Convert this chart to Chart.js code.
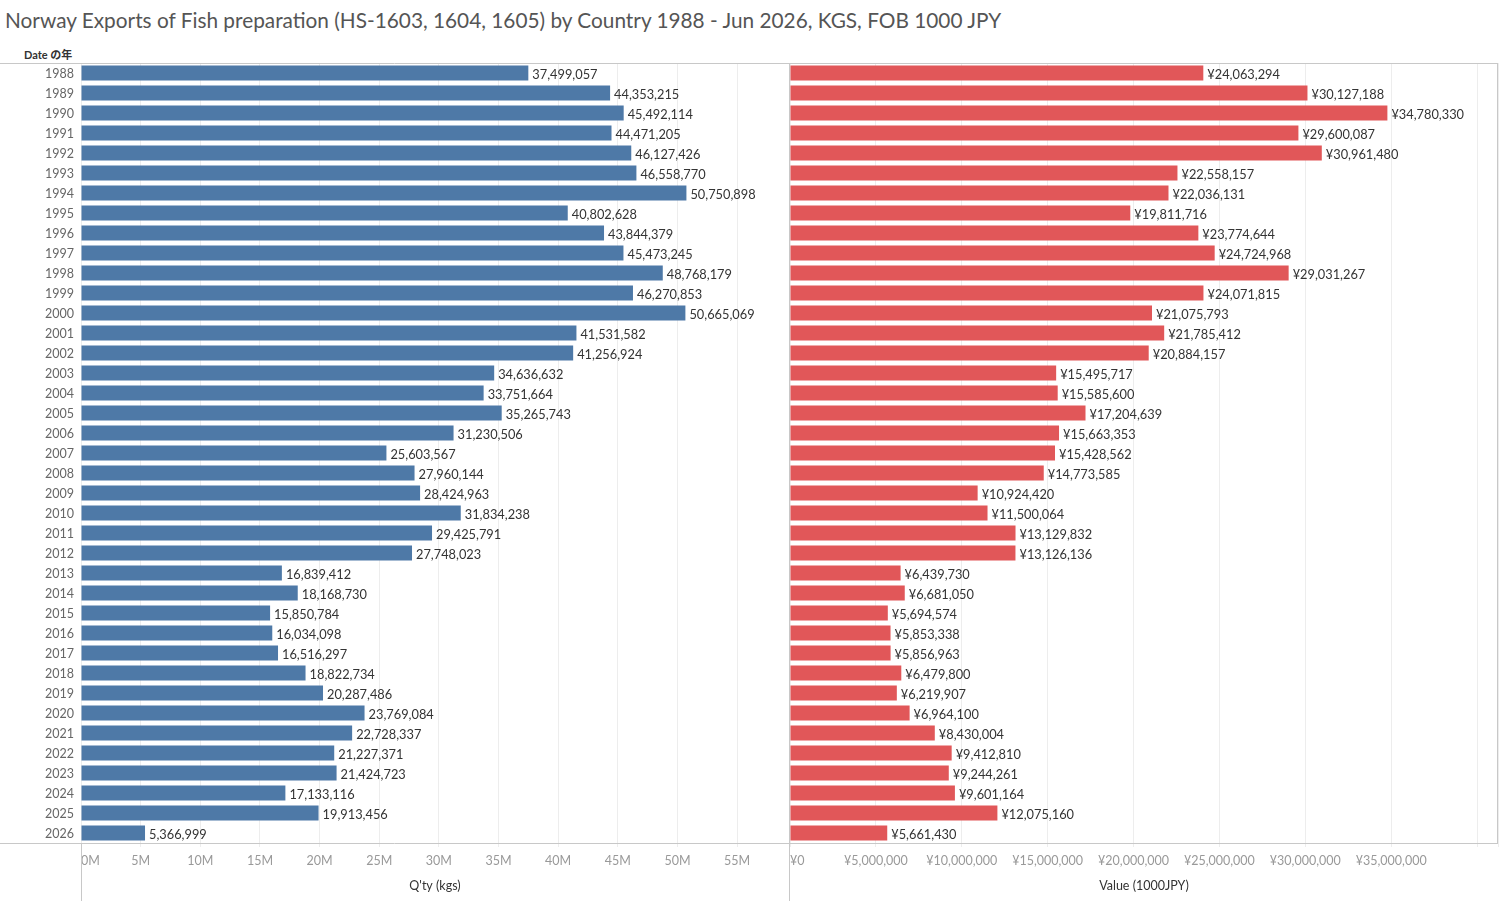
<!DOCTYPE html>
<html>
<head>
<meta charset="utf-8">
<script src="https://cdn.jsdelivr.net/npm/chart.js@4.4.1/dist/chart.umd.min.js"></script>
<style>
    body { margin: 0; background: #fff; font-family: Lato, "Noto Sans CJK JP", sans-serif; }
    #page { position: relative; width: 1500px; height: 901px; overflow: hidden; }
    #title { position: absolute; left: 5px; top: 7px; font-size: 20.8px; color: #555; white-space: nowrap; }
    #yearHeader { position: absolute; left: 24px; top: 46px; font-size: 11px; color: #333; font-weight: bold; }
    .box { position: absolute; top: 40px; height: 861px; }
    #leftBox { left: 0; width: 790px; }
    #rightBox { left: 760px; width: 740px; }
</style>
</head>
<body>
<div id="page">
    <div id="title">Norway Exports of Fish preparation (HS-1603, 1604, 1605) by Country 1988 - Jun 2026, KGS, FOB 1000 JPY</div>
    <div id="yearHeader">Date の年</div>
    <div class="box" id="leftBox"><canvas id="qtyChart"></canvas></div>
    <div class="box" id="rightBox"><canvas id="valueChart"></canvas></div>
</div>
<script>
// Chart data
const years = ['1988', '1989', '1990', '1991', '1992', '1993', '1994', '1995', '1996', '1997',
    '1998', '1999', '2000', '2001', '2002', '2003', '2004', '2005', '2006', '2007',
    '2008', '2009', '2010', '2011', '2012', '2013', '2014', '2015', '2016', '2017',
    '2018', '2019', '2020', '2021', '2022', '2023', '2024', '2025', '2026'];

const qtyKgs = [37499057, 44353215, 45492114, 44471205, 46127426, 46558770, 50750898, 40802628, 43844379, 45473245,
    48768179, 46270853, 50665069, 41531582, 41256924, 34636632, 33751664, 35265743, 31230506, 25603567,
    27960144, 28424963, 31834238, 29425791, 27748023, 16839412, 18168730, 15850784, 16034098, 16516297,
    18822734, 20287486, 23769084, 22728337, 21227371, 21424723, 17133116, 19913456, 5366999];

const valueJpy = [24063294, 30127188, 34780330, 29600087, 30961480, 22558157, 22036131, 19811716, 23774644, 24724968,
    29031267, 24071815, 21075793, 21785412, 20884157, 15495717, 15585600, 17204639, 15663353, 15428562,
    14773585, 10924420, 11500064, 13129832, 13126136, 6439730, 6681050, 5694574, 5853338, 5856963,
    6479800, 6219907, 6964100, 8430004, 9412810, 9244261, 9601164, 12075160, 5661430];

const FONT = 'Lato, "Noto Sans CJK JP", sans-serif';
const LINE_COLOR = '#c8c8c8';
const STEP = 5000000;

// Value labels at the end of each bar
const barLabels = {
    id: 'barLabels',
    afterDatasetsDraw(chart, args, opts) {
        const ctx = chart.ctx;
        const meta = chart.getDatasetMeta(0);
        const data = chart.data.datasets[0].data;
        ctx.save();
        ctx.font = '12.8px ' + FONT;
        ctx.fillStyle = '#333';
        ctx.textAlign = 'left';
        ctx.textBaseline = 'middle';
        meta.data.forEach((bar, i) => {
            ctx.fillText(opts.format(data[i]), bar.x + 4, bar.y + 1.5);
        });
        ctx.restore();
    }
};

// Tableau-like pane borders
const paneLines = {
    id: 'paneLines',
    afterDraw(chart, args, opts) {
        const ctx = chart.ctx;
        const a = chart.chartArea;
        const h = chart.height;
        ctx.save();
        ctx.strokeStyle = LINE_COLOR;
        ctx.lineWidth = 1;
        const line = (x1, y1, x2, y2) => {
            ctx.beginPath();
            ctx.moveTo(x1, y1);
            ctx.lineTo(x2, y2);
            ctx.stroke();
        };
        const startX = opts.side === 'left' ? 0 : a.left;
        line(startX, a.top + 0.5, a.right, a.top + 0.5);
        line(startX, a.bottom + 0.5, a.right, a.bottom + 0.5);
        if (opts.side === 'left') {
            line(a.left + 0.5, a.bottom, a.left + 0.5, h);
        } else {
            line(a.left - 0.5, a.top, a.left - 0.5, h);
            line(a.right - 0.5, a.top, a.right - 0.5, a.bottom);
        }
        ctx.restore();
    }
};

function makeChart(canvasId, values, color, xMax, tickFormat, labelFormat, axisTitle, side) {
    const ctx = document.getElementById(canvasId).getContext('2d');
    const yAxis = {
        display: side === 'left',
        ticks: {
            color: '#666',
            padding: 7,
            labelOffset: 1,
            font: { family: FONT, size: 12.5 }
        },
        grid: { display: false, drawTicks: false },
        border: { display: false }
    };
    if (side === 'left') {
        yAxis.afterFit = (scale) => { scale.width = 81; };
    }
    return new Chart(ctx, {
        type: 'bar',
        data: {
            labels: years,
            datasets: [{
                data: values,
                backgroundColor: color,
                barPercentage: 0.75,
                categoryPercentage: 1.0
            }]
        },
        options: {
            indexAxis: 'y',
            responsive: true,
            maintainAspectRatio: false,
            animation: false,
            layout: {
                padding: side === 'left'
                    ? { top: 23, right: 1, left: 0, bottom: 0 }
                    : { top: 23, right: 2, left: 30, bottom: 0 }
            },
            plugins: {
                legend: { display: false },
                tooltip: { enabled: false },
                barLabels: { format: labelFormat },
                paneLines: { side: side }
            },
            scales: {
                x: {
                    min: 0,
                    max: xMax,
                    afterFit: (scale) => {
                        scale.height = 58;
                        scale.paddingLeft = 0;
                        scale.paddingRight = 0;
                    },
                    // ticks every 5M like the Tableau axis, plus an unlabeled end tick
                    afterBuildTicks: (scale) => {
                        const ticks = [];
                        for (let v = 0; v <= scale.max; v += STEP) {
                            ticks.push({ value: v });
                        }
                        ticks.push({ value: scale.max });
                        scale.ticks = ticks;
                    },
                    ticks: {
                        autoSkip: false,
                        maxRotation: 0,
                        align: 'inner',
                        padding: 6,
                        color: '#999',
                        font: { family: FONT, size: 12.5 },
                        callback: (v) => tickFormat(v, xMax)
                    },
                    grid: {
                        color: '#ededed',
                        drawTicks: true,
                        tickLength: 4
                    },
                    border: { display: false },
                    title: {
                        display: true,
                        text: axisTitle,
                        color: '#333',
                        font: { family: FONT, size: 12.5 },
                        padding: { top: 0, bottom: 8 }
                    }
                },
                y: yAxis
            }
        },
        plugins: [barLabels, paneLines]
    });
}

const fmt = (v) => Math.round(v).toLocaleString('en-US');

makeChart('qtyChart', qtyKgs, '#4e79a7', 59350000,
    (v, max) => (v >= max ? '' : (v / 1000000) + 'M'),
    fmt, "Q'ty (kgs)", 'left');

makeChart('valueChart', valueJpy, '#e15759', 41220000,
    (v) => (v >= 40000000 ? '' : '¥' + fmt(v)),
    (v) => '¥' + fmt(v), 'Value (1000JPY)', 'right');
</script>
</body>
</html>
